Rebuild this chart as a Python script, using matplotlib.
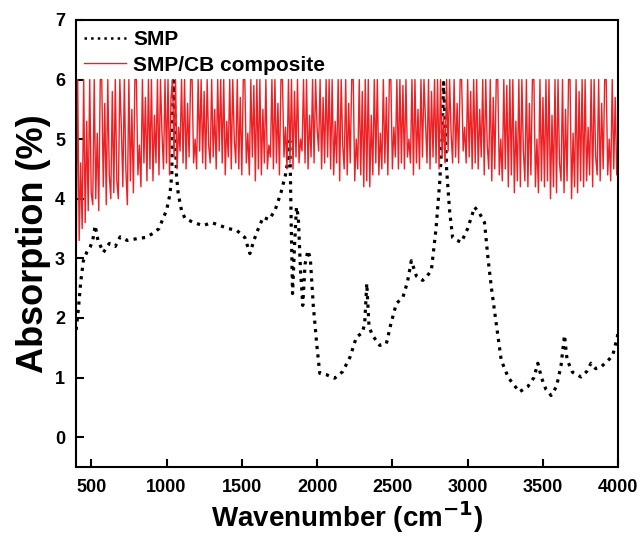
import numpy as np
import matplotlib
matplotlib.use("Agg")
import matplotlib.pyplot as plt

plt.rcParams['font.family'] = ['Liberation Sans', 'DejaVu Sans']
plt.rcParams['font.weight'] = 'bold'

# SMP spectrum (black dotted)
smp_wn = [400, 415, 430, 448, 470, 493, 510, 526, 545, 581, 620, 660, 692, 740, 802,
          860, 912, 950, 980, 1000, 1023, 1035, 1045, 1055, 1066, 1078, 1100, 1123, 1180,
          1244, 1300, 1355, 1410, 1466, 1520, 1554, 1580, 1610, 1642, 1680, 1720, 1760,
          1790, 1810, 1819, 1828, 1837, 1850, 1863, 1875, 1890, 1905, 1920, 1939, 1955,
          1975, 2000, 2018, 2060, 2117, 2170, 2220, 2261, 2300, 2316, 2330, 2345, 2370,
          2416, 2460, 2490, 2526, 2570, 2600, 2626, 2660, 2701, 2730, 2759, 2790, 2815,
          2830, 2840, 2847, 2860, 2880, 2900, 2930, 2958, 3000, 3046, 3080, 3112, 3135,
          3157, 3190, 3223, 3270, 3300, 3344, 3400, 3440, 3466, 3490, 3520, 3554, 3590,
          3620, 3643, 3660, 3696, 3753, 3790, 3819, 3850, 3886, 3930, 3963, 3994, 4000]
smp_abs = [1.8, 2.16, 2.6, 2.96, 3.1, 3.19, 3.3, 3.55, 3.3, 3.1, 3.25, 3.2, 3.36, 3.3, 3.33,
           3.35, 3.42, 3.5, 3.69, 3.8, 4.08, 4.4, 5.98, 5.5, 4.4, 4.08, 3.8, 3.67, 3.6,
           3.55, 3.6, 3.55, 3.5, 3.47, 3.35, 3.08, 3.3, 3.5, 3.69, 3.65, 3.8, 4.1,
           4.4, 4.7, 4.97, 3.6, 2.41, 3.2, 3.86, 3.7, 2.8, 2.21, 2.9, 3.13, 3.0,
           2.2, 1.5, 1.07, 1.05, 0.99, 1.1, 1.35, 1.68, 1.75, 1.9, 2.58, 1.85, 1.7,
           1.54, 1.57, 1.9, 2.24, 2.35, 2.6, 2.96, 2.7, 2.63, 2.7, 2.8, 3.5, 4.3,
           5.0, 5.95, 5.5, 4.5, 3.8, 3.35, 3.3, 3.27, 3.5, 3.86, 3.75, 3.6, 3.0,
           2.52, 1.9, 1.29, 1.0, 0.9, 0.76, 0.85, 1.0, 1.24, 1.0, 0.8, 0.7, 0.85,
           1.2, 1.71, 1.3, 1.09, 1.01, 1.1, 1.24, 1.15, 1.18, 1.28, 1.37, 1.68, 1.8]

# SMP/CB composite (red), one value every 10 cm-1 from 400 to 4000
cb_wn = np.arange(400, 4001, 10)
cb_abs = [
    2.8, 6.0, 3.3, 4.6, 3.5, 6.0, 3.6, 5.3, 3.8, 6.0, 4.1, 3.9,
    6.0, 4.0, 5.1, 3.8, 6.0, 6.0, 4.2, 5.6, 3.9, 6.0, 4.4, 4.0,
    5.8, 4.1, 6.0, 4.3, 4.0, 6.0, 5.2, 4.2, 6.0, 4.5, 3.9, 6.0,
    4.3, 5.5, 4.1, 6.0, 6.0, 4.4, 4.9, 4.2, 6.0, 4.6, 5.7, 4.3,
    6.0, 4.5, 6.0, 4.3, 5.4, 4.6, 6.0, 4.4, 6.0, 5.1, 4.5, 6.0,
    4.6, 6.0, 4.4, 5.7, 6.0, 4.7, 6.0, 4.5, 5.2, 4.8, 6.0, 4.6,
    6.0, 4.5, 5.6, 4.7, 6.0, 6.0, 4.6, 5.0, 4.5, 6.0, 4.8, 6.0,
    4.6, 5.8, 4.5, 6.0, 4.9, 4.6, 6.0, 4.7, 5.5, 4.5, 6.0, 4.8,
    6.0, 4.6, 6.0, 4.4, 5.3, 4.7, 6.0, 4.5, 6.0, 5.0, 4.6, 6.0,
    4.5, 5.7, 4.4, 6.0, 6.0, 4.6, 5.1, 4.4, 6.0, 4.7, 5.9, 4.3,
    6.0, 4.5, 6.0, 4.4, 5.5, 4.6, 6.0, 4.5, 4.9, 4.7, 6.0, 4.5,
    6.0, 4.6, 5.6, 4.4, 6.0, 6.0, 4.7, 5.2, 4.5, 6.0, 4.6, 6.0,
    4.5, 5.8, 4.7, 6.0, 4.6, 5.0, 4.8, 6.0, 4.6, 6.0, 4.5, 5.4,
    4.7, 6.0, 4.6, 6.0, 5.2, 4.8, 6.0, 4.5, 5.7, 4.6, 6.0, 4.7,
    6.0, 4.5, 6.0, 4.4, 5.3, 4.6, 6.0, 4.3, 6.0, 4.9, 4.5, 6.0,
    4.4, 5.6, 4.6, 6.0, 6.0, 4.3, 5.0, 4.5, 6.0, 4.4, 5.8, 4.2,
    6.0, 4.3, 6.0, 4.2, 5.4, 4.4, 6.0, 4.6, 6.0, 4.4, 5.1, 4.5,
    6.0, 4.6, 5.7, 4.4, 6.0, 6.0, 4.5, 5.2, 4.7, 6.0, 4.5, 6.0,
    4.6, 5.9, 4.5, 6.0, 4.7, 5.0, 4.6, 6.0, 4.4, 6.0, 4.6, 5.5,
    4.5, 6.0, 4.7, 6.0, 5.3, 4.6, 6.0, 4.5, 5.8, 4.7, 6.0, 4.6,
    6.0, 4.5, 6.0, 4.7, 5.4, 4.6, 6.0, 4.8, 6.0, 5.1, 4.6, 6.0,
    4.7, 5.6, 4.6, 6.0, 6.0, 4.8, 5.2, 4.6, 6.0, 4.7, 5.8, 4.5,
    6.0, 4.6, 6.0, 4.5, 5.5, 4.7, 6.0, 4.4, 6.0, 4.9, 4.5, 6.0,
    4.3, 5.7, 4.5, 6.0, 6.0, 4.4, 5.0, 4.3, 6.0, 4.5, 5.9, 4.2,
    6.0, 4.4, 6.0, 4.1, 5.3, 4.3, 6.0, 4.2, 6.0, 4.8, 4.3, 6.0,
    4.2, 5.6, 4.4, 6.0, 6.0, 4.2, 5.0, 4.1, 6.0, 4.3, 5.7, 4.2,
    6.0, 4.3, 6.0, 4.0, 5.4, 4.2, 6.0, 4.1, 6.0, 4.6, 4.3, 6.0,
    4.1, 5.5, 4.3, 6.0, 6.0, 4.0, 5.1, 4.2, 6.0, 4.1, 5.8, 4.3,
    6.0, 4.2, 6.0, 4.3, 5.2, 4.4, 6.0, 4.2, 6.0, 4.7, 4.4, 6.0,
    4.3, 5.6, 4.5, 6.0, 6.0, 4.4, 5.0, 4.3, 6.0, 4.5, 5.7, 4.4,
    4.5,
]

fig = plt.figure(figsize=(6.4, 5.38), dpi=100)
ax = fig.add_axes([0.119, 0.132, 0.847, 0.831])

ax.plot(smp_wn, smp_abs, color='black', linestyle=':', linewidth=2.3, label='SMP')
ax.plot(cb_wn, cb_abs, color='#ee2024', linewidth=1.0, label='SMP/CB composite')

ax.set_xlim(400, 4000)
ax.set_ylim(-0.5, 7)
ax.set_xticks([500, 1000, 1500, 2000, 2500, 3000, 3500, 4000])
ax.set_yticks([0, 1, 2, 3, 4, 5, 6, 7])
ax.tick_params(direction='in', length=6, width=1.5, labelsize=13, top=False, right=False)
ax.tick_params(axis='x', pad=9)
ax.tick_params(axis='y', pad=8)
for s in ax.spines.values():
    s.set_linewidth(1.5)

ax.set_xlabel('Wavenumber (cm$^{\\mathbf{-1}}$)', fontsize=20, fontweight='bold', labelpad=2)
ax.set_ylabel('Absorption (%)', fontsize=26, fontweight='bold', labelpad=3)

leg = ax.legend(loc='upper left', bbox_to_anchor=(0.0, 0.995), frameon=False, fontsize=15,
                handlelength=2.0, handletextpad=0.35, labelspacing=0.3, borderaxespad=0.0)
leg.get_lines()[0].set_linewidth(1.8)

fig.savefig('out.png', dpi=100)
